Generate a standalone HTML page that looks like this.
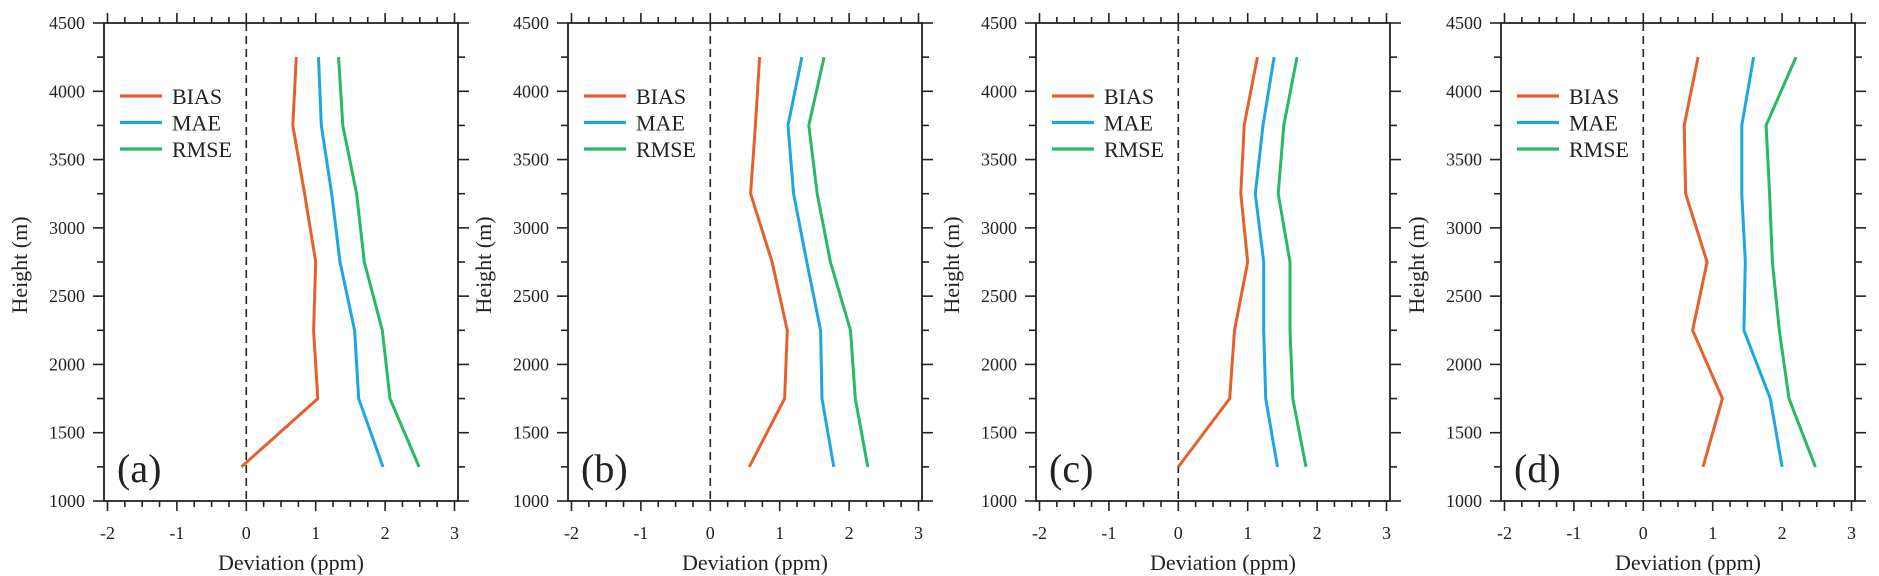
<!DOCTYPE html>
<html><head><meta charset="utf-8"><style>
html,body{margin:0;padding:0;background:#fff;}
svg{display:block;}
text{font-family:"Liberation Serif",serif;fill:#222;}
</style></head><body>
<svg id="fig" width="1879" height="576" viewBox="0 0 1879 576" xmlns="http://www.w3.org/2000/svg"></svg>
<script>
const heights = [1250,1750,2250,2750,3250,3750,4250];
const panelLabels = ['(a)','(b)','(c)','(d)'];
const seriesNames = ['BIAS','MAE','RMSE'];
const biasA = [-0.07,1.03,0.97,1.0,0.84,0.67,0.72];
const maeA  = [1.97,1.62,1.56,1.35,1.23,1.08,1.04];
const rmseA = [2.49,2.07,1.96,1.70,1.59,1.39,1.33];
const biasB = [0.56,1.07,1.11,0.89,0.58,0.65,0.71];
const maeB  = [1.78,1.61,1.59,1.39,1.20,1.12,1.32];
const rmseB = [2.27,2.09,2.02,1.73,1.54,1.42,1.64];
const biasC = [0.0,0.74,0.81,1.0,0.90,0.95,1.14];
const maeC  = [1.43,1.26,1.23,1.23,1.11,1.22,1.38];
const rmseC = [1.84,1.65,1.61,1.61,1.44,1.52,1.71];
const biasD = [0.86,1.14,0.71,0.92,0.61,0.59,0.79];
const maeD  = [2.0,1.83,1.45,1.47,1.42,1.42,1.59];
const rmseD = [2.48,2.10,1.96,1.86,1.82,1.77,2.20];
const xTicks = [-2,-1,0,1,2,3];
const yTicks = [1000,1500,2000,2500,3000,3500,4000,4500];

const panelsData = [[biasA,maeA,rmseA],[biasB,maeB,rmseB],[biasC,maeC,rmseC],[biasD,maeD,rmseD]];
const colors = ['#e4612b','#1ea6e4','#29b866'];
const boxLefts = [104,568,1036,1501];
const boxW = 354, topY = 23, bottomY = 501;
const NS = 'http://www.w3.org/2000/svg';
const svg = document.getElementById('fig');
function mk(tag, attrs, parent){
  const e = document.createElementNS(NS, tag);
  for (const k in attrs) e.setAttribute(k, attrs[k]);
  (parent||svg).appendChild(e); return e;
}
panelsData.forEach((pd, pi) => {
  const L = boxLefts[pi], R = L + boxW;
  const xs = v => (L + 3.5) + (v - (-2)) / 5 * (boxW - 7);
  const ys = v => bottomY - (v - 1000) / 3500 * (bottomY - topY);
  const g = mk('g', {});
  
  
  for (let v = -2; v <= 3.001; v += 0.25) {
    const major = Math.abs(v - Math.round(v)) < 1e-6;
    const len = major ? 10 : 6;
    const x = xs(v);
    mk('line', {x1:x,y1:bottomY,x2:x,y2:bottomY+len,stroke:'#222','stroke-width':1.6}, g);
    mk('line', {x1:x,y1:topY,x2:x,y2:topY-len,stroke:'#222','stroke-width':1.6}, g);
  }
  for (let v = 1000; v <= 4500; v += 250) {
    const major = v % 500 === 0;
    const len = major ? 11 : 7;
    const y = ys(v);
    mk('line', {x1:L,y1:y,x2:L-len,y2:y,stroke:'#222','stroke-width':1.6}, g);
    mk('line', {x1:R,y1:y,x2:R+len,y2:y,stroke:'#222','stroke-width':1.6}, g);
  }
  mk('rect', {x:L,y:topY,width:boxW,height:bottomY-topY,fill:'none',stroke:'#222','stroke-width':1.8}, g);
  xTicks.forEach(v => {
    const t = mk('text', {x:xs(v),y:bottomY+38,'text-anchor':'middle','font-size':18}, g);
    
    
    t.textContent = v;
  });
  yTicks.forEach(v => {
    const t = mk('text', {x:L-19,y:ys(v)+6,'text-anchor':'end','font-size':18}, g);
    
    
    t.textContent = v;
  });
  const xt = mk('text', {x:L+boxW*0.5+10,y:570,'text-anchor':'middle','font-size':22}, g);
  
  
  xt.textContent = 'Deviation (ppm)';
  const yt = mk('text', {x:0,y:0,'text-anchor':'middle','font-size':22,transform:`translate(${L-77},265) rotate(-90)`}, g);
  
  
  yt.textContent = 'Height (m)';
  const zl = mk('line', {x1:xs(0),y1:topY,x2:xs(0),y2:bottomY,stroke:'#222','stroke-width':1.6,'stroke-dasharray':'8,5'}, g);
  
  
  pd.forEach((vals, si) => {
    const pts = vals.map((v, i) => xs(v).toFixed(1) + ',' + ys(heights[i]).toFixed(1)).join(' ');
    const pl = mk('polyline', {points:pts,fill:'none',stroke:colors[si],'stroke-width':3,'stroke-linejoin':'round'}, g);
    
    
  });
  const lg = mk('g', {}, g);
  
  
  seriesNames.forEach((n, si) => {
    const y = 96 + si * 26.5;
    mk('line', {x1:L+16,y1:y,x2:L+58,y2:y,stroke:colors[si],'stroke-width':3.2}, lg);
    const t = mk('text', {x:L+68,y:y+8,'font-size':22}, lg);
    
    
    t.textContent = n;
  });
  const pl = mk('text', {x:L+13,y:482,'font-size':40}, g);
  
  
  pl.textContent = panelLabels[pi];
});
</script>
</body></html>
